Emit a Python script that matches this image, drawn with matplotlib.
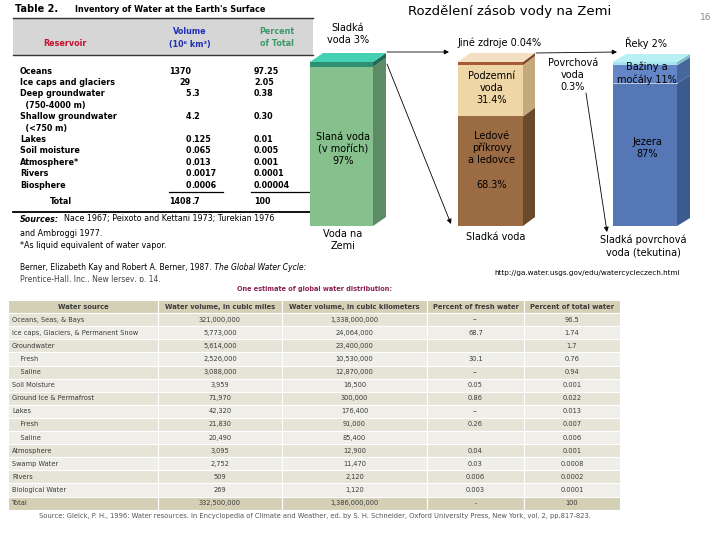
import matplotlib
matplotlib.use("Agg")
import matplotlib.pyplot as plt
from matplotlib.patches import Rectangle, Polygon

plt.rcParams['font.family'] = ['DejaVu Sans']

# ---------- Table 2 (Berner & Berner) ----------
t2_title = "Table 2."
t2_subtitle = "Inventory of Water at the Earth's Surface"
t2_reservoirs = ["Oceans", "Ice caps and glaciers", "Deep groundwater", "  (750-4000 m)",
                 "Shallow groundwater", "  (<750 m)", "Lakes", "Soil moisture",
                 "Atmosphere*", "Rivers", "Biosphere"]
t2_volume = ["1370", "29", "5.3", "", "4.2", "", "0.125", "0.065", "0.013", "0.0017", "0.0006"]
t2_percent = ["97.25", "2.05", "0.38", "", "0.30", "", "0.01", "0.005", "0.001", "0.0001", "0.00004"]
t2_total = ["Total", "1408.7", "100"]
t2_notes = ["Nace 1967; Peixoto and Kettani 1973; Turekian 1976",
            "and Ambroggi 1977.",
            "*As liquid equivalent of water vapor."]

# ---------- 3D bars (Rozdělení zásob vody na Zemi) ----------
earth_pct = [97, 3]              # slaná, sladká
fresh_pct = [68.3, 31.4, 0.3]    # ledovce, podzemní, povrchová
surface_pct = [87, 11, 2]        # jezera, bažiny, řeky
bar_names = ["Voda na\nZemi", "Sladká voda", "Sladká povrchová\nvoda (tekutina)"]

# ---------- USGS table ----------
usgs_header = ["Water source", "Water volume, in cubic miles", "Water volume, in cubic kilometers",
               "Percent of fresh water", "Percent of total water"]
water_source = ["Oceans, Seas, & Bays", "Ice caps, Glaciers, & Permanent Snow", "Groundwater",
                "    Fresh", "    Saline", "Soil Moisture", "Ground Ice & Permafrost", "Lakes",
                "    Fresh", "    Saline", "Atmosphere", "Swamp Water", "Rivers",
                "Biological Water", "Total"]
cubic_miles = ["321,000,000", "5,773,000", "5,614,000", "2,526,000", "3,088,000", "3,959",
               "71,970", "42,320", "21,830", "20,490", "3,095", "2,752", "509", "269",
               "332,500,000"]
cubic_km = ["1,338,000,000", "24,064,000", "23,400,000", "10,530,000", "12,870,000", "16,500",
            "300,000", "176,400", "91,000", "85,400", "12,900", "11,470", "2,120", "1,120",
            "1,386,000,000"]
pct_fresh = ["--", "68.7", "", "30.1", "--", "0.05", "0.86", "--", "0.26", "", "0.04",
             "0.03", "0.006", "0.003", "-"]
pct_total = ["96.5", "1.74", "1.7", "0.76", "0.94", "0.001", "0.022", "0.013", "0.007",
             "0.006", "0.001", "0.0008", "0.0002", "0.0001", "100"]


def draw_bar(ax, x0, width, pcts, fronts, sides, top, dx=13, dy=9,
             bottom=226, height=164, min_px=3):
    hs = [p / 100 * height for p in pcts]
    extra = sum(max(min_px - h, 0) for h in hs)
    hs = [max(h, min_px) for h in hs]
    hs[hs.index(max(hs))] -= extra
    y = bottom
    for h, fc, sc in zip(hs, fronts, sides):
        ax.add_patch(Rectangle((x0, y - h), width, h, fc=fc, ec='none', zorder=5))
        x1 = x0 + width
        ax.add_patch(Polygon([(x1, y), (x1, y - h), (x1 + dx, y - h - dy), (x1 + dx, y - dy)],
                             closed=True, fc=sc, ec='none', zorder=5))
        y -= h
    ax.add_patch(Polygon([(x0, y), (x0 + width, y), (x0 + width + dx, y - dy), (x0 + dx, y - dy)],
                         closed=True, fc=top, ec='none', zorder=5))
    return y


fig = plt.figure(figsize=(7.2, 5.4), dpi=100)
ax = fig.add_axes([0, 0, 1, 1])
ax.set_xlim(0, 720)
ax.set_ylim(540, 0)
ax.axis('off')

# ----- Table 2 -----
ax.text(15, 9, t2_title, fontsize=7, fontweight='bold', va='center')
ax.text(75, 9, t2_subtitle, fontsize=5.9, fontweight='bold', va='center')
ax.add_patch(Rectangle((13, 18), 300, 37, fc='#d6d6d6', ec='none'))
ax.plot([13, 313], [18, 18], color='#333333', lw=1.0)
ax.plot([13, 313], [55, 55], color='#333333', lw=1.0)
ax.text(43, 43, "Reservoir", color='#c8102e', fontsize=5.8, fontweight='bold', va='center')
ax.text(190, 31, "Volume", color='#1f2fb8', fontsize=5.8, fontweight='bold', va='center', ha='center')
ax.text(190, 44, "(10⁶ km³)", color='#1f2fb8', fontsize=5.8, fontweight='bold', va='center', ha='center')
ax.text(277, 31, "Percent", color='#3a9a6a', fontsize=5.8, fontweight='bold', va='center', ha='center')
ax.text(277, 44, "of Total", color='#3a9a6a', fontsize=5.8, fontweight='bold', va='center', ha='center')

for i, (name, vol, pct) in enumerate(zip(t2_reservoirs, t2_volume, t2_percent)):
    y = 71 + i * 11.4
    ax.text(20, y, name, fontsize=5.8, fontweight='bold', va='center')
    if vol:
        whole, _, frac = vol.partition('.')
        ax.text(191, y, whole, fontsize=5.8, fontweight='bold', va='center', ha='right')
        if frac:
            ax.text(191, y, '.' + frac, fontsize=5.8, fontweight='bold', va='center', ha='left')
    if pct:
        ax.text(254, y, pct, fontsize=5.8, fontweight='bold', va='center', ha='left')
ax.plot([169, 223], [191.5, 191.5], color='black', lw=0.9)
ax.plot([251, 309], [191.5, 191.5], color='black', lw=0.9)
ax.text(50, 201, t2_total[0], fontsize=5.8, fontweight='bold', va='center')
whole, _, frac = t2_total[1].partition('.')
ax.text(191, 201, whole, fontsize=5.8, fontweight='bold', va='center', ha='right')
ax.text(191, 201, '.' + frac, fontsize=5.8, fontweight='bold', va='center', ha='left')
ax.text(254, 201, t2_total[2], fontsize=5.8, fontweight='bold', va='center', ha='left')
ax.plot([13, 313], [212, 212], color='black', lw=1.3)

src = ax.text(20, 219, "Sources:", fontsize=5.8, style='italic', fontweight='bold', va='center')
ax.annotate("  " + t2_notes[0], xy=(1, 0.5), xycoords=src, fontsize=5.8, va='center', ha='left')
ax.text(20, 233, t2_notes[1], fontsize=5.8, va='center')
ax.text(20, 246, t2_notes[2], fontsize=5.8, va='center')

b1 = ax.text(20, 268, "Berner, Elizabeth Kay and Robert A. Berner, 1987.", fontsize=5.5, va='center')
ax.annotate(" The Global Water Cycle:", xy=(1, 0.5), xycoords=b1, fontsize=5.5,
            style='italic', va='center', ha='left')
ax.text(20, 280, "Prentice-Hall, Inc., New Jersey, p. 14.", fontsize=5.5, va='center', color='#444444')
ax.add_patch(Rectangle((0, 282), 330, 15, fc='white', ec='none', zorder=3))

# ----- bars -----
ax.text(510, 11, "Rozdělení zásob vody na Zemi", fontsize=9.5, ha='center', va='center')
ax.text(706, 17, "16", fontsize=6.5, color='#888888', ha='center', va='center')

draw_bar(ax, 310, 63, earth_pct, ['#86c08d', '#2f8f72'], ['#5d8b65', '#226a55'], '#44d0b3', dy=9)
draw_bar(ax, 458, 65, fresh_pct, ['#9b6b44', '#efd6a6', '#a65a36'],
         ['#6b4a2c', '#c4a97a', '#7a4125'], '#f2dfc4', dx=12, dy=9)
draw_bar(ax, 613, 64, surface_pct, ['#5577b6', '#6486c6', '#a6e4ef'],
         ['#3b5a8e', '#46679c', '#7fbcc8'], '#b8f0f6', dy=8)
ax.plot([613, 677], [83, 83], color='#c8d8f0', lw=0.6, zorder=6)

lbl = dict(fontsize=7, ha='center', va='center', zorder=7, linespacing=1.25)
ax.text(348, 34, "Sladká\nvoda 3%", **lbl)
ax.text(343, 149, "Slaná voda\n(v mořích)\n97%", **lbl)
ax.text(343, 240, bar_names[0], **lbl)
ax.text(457, 43, "Jiné zdroje 0.04%", fontsize=7, ha='left', va='center', zorder=7)
ax.text(492, 88, "Podzemní\nvoda\n31.4%", **lbl)
ax.text(492, 148, "Ledové\npříkrovy\na ledovce", **lbl)
ax.text(492, 185, "68.3%", **lbl)
ax.text(496, 237, bar_names[1], **lbl)
ax.text(573, 75, "Povrchová\nvoda\n0.3%", **lbl)
ax.text(646, 43, "Řeky 2%", **lbl)
ax.text(647, 73, "Bažiny a\nmočály 11%", **lbl)
ax.text(647, 148, "Jezera\n87%", **lbl)
ax.text(643, 246, bar_names[2], **lbl)

arrow = dict(arrowstyle='-|>', color='black', lw=0.6, mutation_scale=7, shrinkA=0, shrinkB=0)
ax.annotate('', xy=(449, 52), xytext=(387, 52), arrowprops=arrow, zorder=6)
ax.annotate('', xy=(451, 224), xytext=(387, 64), arrowprops=arrow, zorder=6)
ax.annotate('', xy=(617, 52), xytext=(536, 53), arrowprops=arrow, zorder=6)
ax.annotate('', xy=(607, 232), xytext=(586, 93), arrowprops=arrow, zorder=6)

ax.text(587, 273, "http://ga.water.usgs.gov/edu/watercycleczech.html", fontsize=5.2,
        ha='center', va='center')

# ----- USGS table -----
ax.text(237, 289, "One estimate of global water distribution:", fontsize=4.7, fontweight='bold',
        color='#8b2252', va='center', zorder=4)
cols = [8, 158, 282, 427, 524, 620]
row_h = 13.1
top = 300
khaki = '#d4d0b5'
light = ['#efeee8', '#e5e4d6']
rows = [usgs_header] + [list(r) for r in zip(water_source, cubic_miles, cubic_km, pct_fresh, pct_total)]
for i, row in enumerate(rows):
    y0 = top + i * row_h
    edge = i == 0 or i == len(rows) - 1
    bg = khaki if edge else light[i % 2]
    for j in range(5):
        ax.add_patch(Rectangle((cols[j], y0), cols[j + 1] - cols[j], row_h, fc=bg,
                               ec='white', lw=0.8, zorder=4))
        if i > 0 and j == 0:
            ax.text(cols[0] + 4, y0 + row_h / 2, row[j], fontsize=4.8, color='#3a3a3a',
                    va='center', ha='left', zorder=5)
        else:
            ax.text((cols[j] + cols[j + 1]) / 2, y0 + row_h / 2, row[j],
                    fontsize=4.9 if i == 0 else 4.8,
                    color='#3a3a3a', va='center', ha='center', zorder=5,
                    fontweight='bold' if i == 0 else 'normal')

ax.text(315, 516, "Source: Gleick, P. H., 1996: Water resources. In Encyclopedia of Climate and Weather, "
        "ed. by S. H. Schneider, Oxford University Press, New York, vol. 2, pp.817-823.",
        fontsize=4.9, color='#555555', ha='center', va='center')

fig.savefig("out.png", dpi=100)
